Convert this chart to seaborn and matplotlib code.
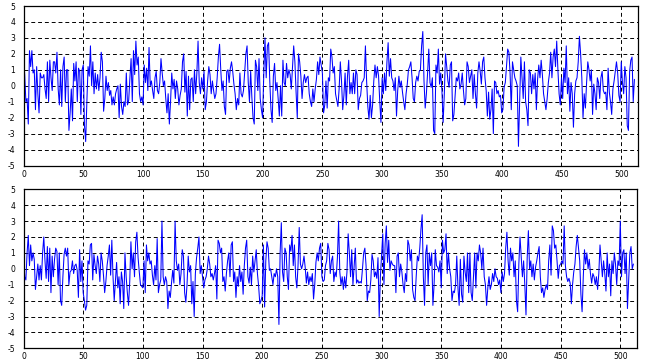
import numpy as np
import pandas as pd
import matplotlib
matplotlib.use("Agg")
import matplotlib.pyplot as plt
import seaborn as sns

top_signal = [
    1.8, 0.7, -1.0, -0.8, -2.4, 2.2, 1.2, 2.2, 0.8, 1.0,
    -1.5, 1.2, -0.5, -1.7, 0.8, 0.5, 0.5, 0.7, -0.2, -0.8,
    1.5, -1.0, 1.6, 0.5, -0.3, 1.5, 1.5, 0.8, 2.1, -0.2,
    -1.2, 1.0, -1.3, 1.2, 1.8, -1.0, 1.0, 1.0, -2.8, -1.7,
    -0.2, -2.2, 1.4, 0.3, 1.5, -1.0, 1.1, 0.9, -1.8, 1.0,
    1.3, -2.5, -3.5, -1.0, 1.2, 0.6, 2.5, 0.0, 1.5, -0.5,
    0.8, -0.2, 0.7, -0.3, 0.5, 2.1, 1.5, -1.6, -0.8, 0.6,
    -0.3, 0.2, -0.6, -0.3, -1.2, -0.7, -1.2, -0.5, -0.2, 0.0,
    -2.0, 0.1, -1.3, -1.8, -1.0, -1.3, 0.8, -1.2, -0.9, 0.5,
    1.7, -1.0, 2.2, 0.7, 2.8, 1.3, 1.8, -0.5, -1.0, -0.7,
    -1.2, 1.3, 0.2, 1.1, -0.3, 2.4, 0.0, 0.3, -0.3, -0.8,
    0.5, 0.9, -0.3, -0.5, 0.2, 1.7, 0.8, 0.0, 0.3, -0.8,
    -1.7, -0.5, -2.4, -1.0, 0.8, -0.2, 0.4, -0.8, 0.3, -0.2,
    -1.2, -0.6, -0.2, 1.5, 2.0, -0.4, 0.9, -1.9, 0.6, -1.5,
    0.4, 0.5, -1.0, 1.0, -0.5, 0.8, 2.8, 0.2, -0.5, 0.5,
    -0.2, 0.9, -1.5, -1.0, 0.3, 1.2, 0.7, -0.5, 0.3, -0.3,
    -0.8, -0.5, 0.5, 1.8, 2.6, 1.0, -0.3, 0.3, -1.3, -1.8,
    0.9, 1.0, 0.2, 1.1, 1.5, 0.9, 0.1, -0.5, -1.5, -0.8,
    -1.2, 0.8, -0.5, -0.7, -0.3, 0.8, 2.0, 2.5, 0.2, -1.0,
    0.9, -0.7, -2.0, -2.4, 1.6, 1.2, -0.3, 1.7, -0.8, -1.5,
    -2.0, 0.8, 3.0, 0.5, 2.5, 2.7, 0.3, -1.5, -2.3, 0.6,
    1.4, -0.3, 0.2, -0.8, -1.9, 0.0, -1.9, 1.6, 0.2, 0.0,
    1.4, 0.5, 1.0, 0.7, -0.2, 1.1, 2.5, 1.5, -0.4, -2.0,
    2.0, 1.5, 0.6, -0.8, 0.2, 0.7, 0.2, 0.5, 0.6, -0.5,
    -1.0, -1.3, -0.2, -1.0, -0.2, 0.4, 1.5, 0.7, 1.8, 1.3,
    0.8, -1.7, -1.2, 0.3, -1.4, 0.5, 0.3, 2.3, 1.8, 0.8,
    1.2, -0.5, -0.9, -1.3, -0.2, 1.5, 0.3, -1.5, -0.6, 0.8,
    -1.2, 0.6, 1.6, -0.5, 0.2, -0.5, 0.8, -0.5, 1.0, 0.7,
    -1.5, -0.8, -0.6, 0.2, 0.3, 0.5, 2.5, 0.3, -1.3, -2.1,
    -0.6, -2.0, -1.2, 0.3, 1.3, 0.5, 1.2, 0.6, -1.0, -2.3,
    0.5, -0.5, 0.8, -0.3, 1.5, 2.7, 0.6, 1.7, 0.5, 0.3,
    -0.3, 0.5, -1.9, -0.3, 0.6, -0.1, 0.3, -0.4, -1.0, -1.5,
    -0.5, 0.1, 1.0, 1.2, 1.5, 0.5, -0.8, -1.0, 0.2, 0.6,
    0.3, 0.9, 1.0, 2.5, 3.4, 0.3, -1.4, -0.5, 0.8, 2.3,
    0.2, -0.1, 0.5, -2.8, -3.0, 1.3, 0.8, 2.3, 0.1, 0.8,
    -0.3, -2.3, -0.5, 2.0, 1.2, 0.3, -0.1, 1.3, 1.5, -2.2,
    -1.8, -0.7, 0.5, 0.3, 0.8, -0.2, 0.1, 0.8, -0.3, -1.2,
    -0.8, 1.5, 1.2, 0.2, 0.6, 1.0, -0.8, 0.7, -0.5, -1.4,
    0.8, 1.5, 0.9, 0.1, 1.5, 1.8, 0.5, -0.3, -1.9, -0.4,
    -2.1, -1.5, -0.2, -3.0, 0.3, 0.2, -0.5, -0.3, -0.7, -0.6,
    -1.7, -1.5, -0.1, 0.2, 1.2, 2.3, 2.1, 0.8, -1.5, 1.5,
    1.0, 0.5, 0.3, 0.0, -3.8, -1.0, 1.8, 0.5, -0.8, 1.5,
    -1.0, -1.5, -2.5, 1.0, 0.8, -0.5, 0.7, -0.2, 0.8, -1.5,
    0.4, 1.3, 0.5, 1.6, 0.7, -0.5, -1.0, -1.5, -0.8, 0.2,
    0.8, 2.1, 0.5, 1.8, 2.3, 1.2, 2.8, 1.0, -0.5, -1.2,
    0.5, -0.8, 1.1, 0.2, 2.5, -0.5, 0.5, -1.6, 0.2, -0.5,
    -2.6, -0.5, 0.3, 0.5, 1.5, 3.1, 2.0, 0.5, -2.0, -0.5,
    -1.4, 0.2, 1.5, 1.0, 0.3, 1.0, -1.8, 0.1, -0.5, -1.5,
    0.5, 0.2, -0.8, 0.5, 0.9, -0.3, -0.5, -0.4, -1.5, 1.1,
    -0.4, -1.0, -1.8, -0.2, 0.3, 0.9, 1.5, 0.8, -0.6, -1.0,
    1.5, 0.2, -0.5, 1.2, 0.5, -2.5, -2.8, 0.9, 1.6, 1.8,
    -1.0, 0.4,
]

bottom_signal = [
    0.9, -0.5, -0.7, 1.0, 2.1, 0.2, 1.5, 0.5, 1.0, 0.6,
    -1.3, -0.5, 0.3, -0.7, 0.2, -0.7, 1.0, 2.0, 0.5, -0.6,
    1.4, -0.8, 1.3, -1.5, 0.8, -0.5, 0.6, 1.3, 1.1, -1.0,
    1.0, -2.0, -2.3, -0.5, 0.9, 1.3, 0.8, 1.3, -1.0, -0.2,
    -0.1, 0.5, -0.3, 0.2, 0.3, -0.1, -1.8, 1.2, -0.8, 0.5,
    -1.5, -2.0, -2.6, -2.3, 0.5, 0.3, 1.5, 1.6, -0.7, 0.9,
    0.2, -0.3, 0.8, 0.3, -0.8, 1.0, 0.5, -0.4, -1.5, -0.8,
    0.2, 0.8, 1.5, -0.4, 1.8, -0.5, -2.0, -0.8, 0.4, -1.2,
    -0.5, -2.2, -0.2, -0.8, -2.5, 1.0, -0.5, -1.5, -2.3, -0.8,
    1.7, 0.0, 1.0, -0.5, 1.7, 2.3, 0.7, -0.2, -1.0, -1.1,
    -1.2, 0.5, -1.5, 1.5, 0.5, 1.0, 0.3, 0.5, -0.4, -1.0,
    0.2, -0.7, 1.9, -1.5, -1.0, -0.7, 3.0, -0.5, -1.0, -0.5,
    -0.8, -2.5, -1.4, -1.8, -0.9, -0.1, -0.9, 3.0, 0.5, -0.1,
    0.3, -1.0, -0.3, 1.2, 0.8, -1.5, -2.1, -1.0, 0.8, -0.2,
    0.2, -2.2, -0.8, -3.0, -0.3, 0.7, 1.3, 2.0, -0.3, 0.2,
    -0.5, -1.2, -0.7, -0.5, 0.0, 0.8, 0.3, -0.5, -0.3, -0.7,
    -0.3, 0.2, -1.9, 1.8, 1.6, 1.0, 1.3, -0.8, -0.5, -1.4,
    -0.3, 0.5, 1.0, -0.5, 1.5, 1.7, -0.8, -0.2, -1.8, -0.5,
    -1.1, 0.2, -0.8, -0.2, -1.6, 0.2, 1.3, 1.8, -0.5, -0.9,
    0.1, -1.0, 0.8, -0.2, 0.5, 1.2, -0.3, -1.1, -2.2, -2.0,
    -1.7, 1.5, -2.4, 0.5, 1.7, 1.3, -0.1, 0.0, -0.5, -1.0,
    -0.3, -0.5, 0.0, -0.5, -3.5, 1.0, 2.9, -0.2, -0.8, 1.3,
    1.0, -0.5, -1.3, 1.5, 1.1, 2.1, 0.2, 1.5, -0.5, -1.2,
    0.2, 2.6, 0.3, 0.0, 0.3, 0.8, 0.1, -0.9, -0.2, -1.0,
    -0.5, -0.8, -0.3, -1.9, -1.0, 0.4, 1.0, 0.5, 1.3, 1.6,
    -0.5, -0.8, -0.7, 0.2, 0.5, 1.6, 1.2, -0.3, 0.5, 0.8,
    -0.8, -0.2, -0.5, 0.7, 3.0, -0.2, -1.0, -0.5, -1.3, -0.5,
    -1.2, -0.2, 2.2, 1.0, -0.5, 1.2, -1.0, 0.2, 1.3, -0.9,
    -0.7, -0.9, -0.8, -0.9, 0.0, 1.0, 1.3, 0.2, -2.0, -1.4,
    -1.5, -0.7, 0.9, 0.5, -0.5, -0.2, -0.6, 0.7, -3.0, -0.5,
    0.8, 2.2, -1.0, 1.6, 2.7, 0.4, 1.8, -0.1, 0.5, 0.3,
    0.2, 0.2, -1.5, 0.8, 1.0, -0.5, 0.3, -0.2, -1.0, -1.5,
    -0.3, -0.8, 1.8, 1.5, 0.5, 1.2, -1.3, -1.8, -2.0, -0.5,
    0.8, 0.5, 1.3, 2.5, 3.4, -0.5, -2.3, 1.0, 1.5, -1.0,
    1.0, 0.2, 1.0, -2.3, -1.0, 1.2, 0.2, 0.1, -0.2, 0.5,
    -1.2, 1.8, 1.0, 1.2, 2.2, -0.3, 1.0, 0.0, -0.5, -2.0,
    -1.4, -1.5, -1.0, 0.8, -1.2, -2.3, 0.6, -1.6, -2.1, 0.8,
    -0.2, -0.8, 1.0, -1.5, 1.0, -1.5, -2.0, -0.5, 1.0, -1.2,
    1.0, 0.5, 1.5, 1.0, 0.0, 1.3, -0.5, -1.0, -2.3, -1.2,
    -0.5, -1.3, -1.0, -0.3, -0.8, 0.0, -0.5, -0.6, -1.0, -0.7,
    -1.5, -0.2, -0.8, -0.3, 1.3, 2.3, 0.5, -0.4, 1.3, 0.5,
    1.0, -0.5, 0.5, -2.0, -2.7, 0.3, 2.0, 0.7, -0.5, 0.5,
    -1.0, -2.9, 0.7, 2.4, 0.0, 0.5, -0.5, 0.3, -0.7, 0.1,
    0.5, 1.0, 1.4, -0.5, -1.5, -1.2, -1.8, -1.3, -1.0, -1.3,
    0.5, 1.5, -0.4, 2.7, 2.4, 1.3, 1.5, 0.5, -0.6, 0.2,
    0.3, 0.5, 0.3, 2.7, 0.2, -0.5, -0.8, -0.6, -0.9, -2.2,
    -1.0, -0.2, 0.3, 1.4, 2.1, 1.3, 0.5, -1.6, -2.7, -0.5,
    1.2, 0.3, 1.0, 0.0, 0.6, -0.3, -0.9, -0.3, -0.5, -1.0,
    -0.5, -1.3, -0.3, 1.5, 0.5, -0.5, 0.5, -0.3, -1.4, 1.0,
    -0.5, 0.3, -1.7, 0.5, -0.3, 1.0, 0.3, -1.0, 0.5, 0.2,
    3.0, -0.5, 1.0, 1.2, -0.3, 1.0, -2.5, -0.7, 1.0, 1.4,
    0.0, 0.3,
]

x_ticks = [0, 50, 100, 150, 200, 250, 300, 350, 400, 450, 500]
y_ticks = [-5, -4, -3, -2, -1, 0, 1, 2, 3, 4, 5]

sns.set_style("white")
plt.rcParams['font.family'] = ['DejaVu Sans']

fig = plt.figure(figsize=(6.5, 3.63), dpi=100)
W, H = 650.0, 363.0
ax_top = fig.add_axes([23.5 / W, 1 - 165.5 / H, (638.0 - 23.5) / W, (165.5 - 6.0) / H])
ax_bot = fig.add_axes([23.5 / W, 1 - 348.3 / H, (637.0 - 23.5) / W, (348.3 - 189.3) / H])

for ax, sig in ((ax_top, top_signal), (ax_bot, bottom_signal)):
    df = pd.DataFrame({"n": np.arange(len(sig)), "v": sig})
    sns.lineplot(data=df, x="n", y="v", ax=ax, color="#0000FF", linewidth=0.75)
    ax.set_xlim(0, 514)
    ax.set_ylim(-5, 5)
    ax.set_xticks(x_ticks)
    ax.set_yticks(y_ticks)
    ax.set_xticklabels([str(t) for t in x_ticks])
    ax.set_yticklabels([str(t) for t in y_ticks])
    ax.grid(True, color="black", linestyle=(0, (4, 3)), linewidth=0.7)
    ax.set_axisbelow(True)
    ax.tick_params(axis="both", length=0, labelsize=5.5, colors="black")
    ax.tick_params(axis="y", pad=6)
    ax.tick_params(axis="x", pad=3)
    ax.set_xlabel("")
    ax.set_ylabel("")
    for s in ax.spines.values():
        s.set_visible(True)
        s.set_color("black")
        s.set_linewidth(0.9)

fig.savefig("out.png", dpi=100)
